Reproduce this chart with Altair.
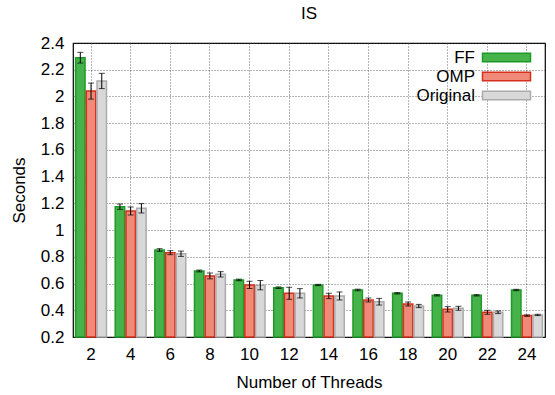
import altair as alt
import pandas as pd

threads = [2, 4, 6, 8, 10, 12, 14, 16, 18, 20, 22, 24]
series = ["FF", "OMP", "Original"]
ff = [2.29, 1.175, 0.851, 0.694, 0.627, 0.569, 0.589, 0.552, 0.527, 0.512, 0.512, 0.552]
ff_err = [0.04, 0.02, 0.01, 0.007, 0.006, 0.006, 0.005, 0.006, 0.005, 0.005, 0.005, 0.005]
omp = [2.04, 1.143, 0.831, 0.657, 0.59, 0.527, 0.507, 0.477, 0.447, 0.407, 0.385, 0.36]
omp_err = [0.06, 0.03, 0.015, 0.022, 0.027, 0.045, 0.02, 0.015, 0.015, 0.02, 0.015, 0.005]
orig = [2.116, 1.163, 0.823, 0.669, 0.588, 0.527, 0.507, 0.464, 0.432, 0.415, 0.385, 0.365]
orig_err = [0.057, 0.035, 0.02, 0.02, 0.035, 0.035, 0.03, 0.025, 0.012, 0.015, 0.01, 0.005]
y_ticks = [0.2, 0.4, 0.6, 0.8, 1.0, 1.2, 1.4, 1.6, 1.8, 2.0, 2.2, 2.4]

fills = ["#45b34a", "#ef8a78", "#d8d8d8"]
strokes = ["#1f9a2a", "#d6301c", "#ababab"]

rows = []
for name, vals, errs in zip(series, [ff, omp, orig], [ff_err, omp_err, orig_err]):
    for t, v, e in zip(threads, vals, errs):
        rows.append({"threads": t, "series": name, "seconds": v, "lo": v - e, "hi": v + e})
df = pd.DataFrame(rows)

FONT = "Liberation Sans"

x = alt.X(
    "threads:O",
    title="Number of Threads",
    scale=alt.Scale(paddingInner=0.22, paddingOuter=0.065),
    axis=alt.Axis(labelAngle=0, grid=True, bandPosition=0.5, ticks=False, domain=False,
                  labelPadding=9, titlePadding=12),
)
xoff = alt.XOffset("series:N", scale=alt.Scale(domain=series, paddingInner=0.12))
yscale = alt.Scale(domain=[0.2, 2.4], zero=False, nice=False)
yaxis = alt.Axis(values=y_ticks, format="~g", grid=True, ticks=False, domain=False,
                 labelOverlap=False, labelPadding=9, titlePadding=12)

base = alt.Chart(df)

bars = base.mark_bar(strokeWidth=1.5).encode(
    x=x,
    xOffset=xoff,
    y=alt.Y("seconds:Q", title="Seconds", scale=yscale, axis=yaxis),
    y2=alt.datum(0.2),
    fill=alt.Fill("series:N", scale=alt.Scale(domain=series, range=fills), legend=alt.Legend(title=None)),
    stroke=alt.Stroke("series:N", scale=alt.Scale(domain=series, range=strokes), legend=alt.Legend(title=None)),
)

rules = base.mark_rule(color="black", strokeWidth=1).encode(
    x=x, xOffset=xoff, y=alt.Y("lo:Q", title="Seconds", scale=yscale, axis=yaxis), y2="hi:Q"
)
lo_ticks = base.mark_tick(color="black", thickness=1, size=6).encode(
    x=x, xOffset=xoff, y=alt.Y("lo:Q", title="Seconds", scale=yscale, axis=yaxis)
)
hi_ticks = base.mark_tick(color="black", thickness=1, size=6).encode(
    x=x, xOffset=xoff, y=alt.Y("hi:Q", title="Seconds", scale=yscale, axis=yaxis)
)

chart = alt.layer(bars, rules, lo_ticks, hi_ticks).properties(
    width=472,
    height=294,
    title=alt.Title("IS", fontSize=17, fontWeight="normal", font=FONT, offset=11, color="black"),
    autosize=alt.AutoSizeParams(type="none"),
    padding={"left": 73, "top": 43, "right": 10, "bottom": 58},
).configure_view(
    stroke="black", strokeWidth=1.2
).configure_axis(
    labelFont=FONT, titleFont=FONT, labelFontSize=17, titleFontSize=17,
    labelColor="black", titleColor="black", titleFontWeight="normal",
    gridColor="#444444", gridDash=[1, 2], gridWidth=0.8, gridOpacity=1,
).configure_legend(
    orient="none", legendX=425, legendY=6, padding=0,
    symbolType="M-4,-0.7H4V0.7H-4Z", symbolSize=144, symbolStrokeWidth=1.5,
    symbolOpacity=1,
    labelOffset={"expr": "-40"}, labelAlign="right", labelFont=FONT, labelFontSize=17, labelColor="black",
    labelLimit=0, rowPadding=1,
)

chart.save("out.html", embed_options={"renderer": "svg", "actions": False})
